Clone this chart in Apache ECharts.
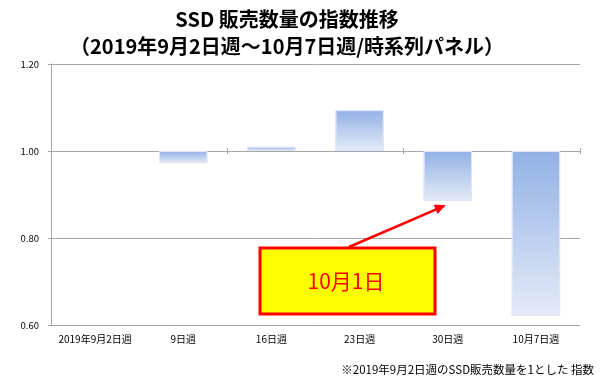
<!DOCTYPE html>
<html>
<head>
<meta charset="utf-8">
<script src="https://cdn.jsdelivr.net/npm/echarts@6/dist/echarts.min.js"></script>
<style>
html,body{margin:0;padding:0;background:#fff;}
#c{width:600px;height:380px;}
</style>
</head>
<body>
<div id="c"></div>
<script>
const categories = ['2019年9月2日週', '9日週', '16日週', '23日週', '30日週', '10月7日週'];
const values = [1.00, 0.972, 1.010, 1.094, 0.885, 0.621];
const yTicks = [0.60, 0.80, 1.00, 1.20];
const baseline = 1.00;
const titleLines = ['SSD 販売数量の指数推移', '（2019年9月2日週～10月7日週/時系列パネル）'];
const footnote = '※2019年9月2日週のSSD販売数量を1とした 指数';
const annotationText = '10月1日';
const annotationIndex = 4;

const baseVals = values.map(v => Math.min(v, baseline));
const deltaVals = values.map(v => (v === baseline ? null : Math.abs(v - baseline)));

const font = '"Noto Sans CJK JP", "Noto Sans", sans-serif';
const grad = new echarts.graphic.LinearGradient(0, 0, 0, 1, [
  {offset: 0, color: '#92b1e5'},
  {offset: 1, color: '#e4ebf8'}
]);

const chart = echarts.init(document.getElementById('c'), null, {renderer: 'canvas'});
const gridTop = 64, gridBottom = 55, gridLeft = 51, gridRight = 20;
const plotH = 380 - gridTop - gridBottom;
const yMin = yTicks[0], yMax = yTicks[yTicks.length - 1];
const offBase = -plotH * (yMax - baseline) / (yMax - yMin);

const option = {
  animation: false,
  backgroundColor: '#ffffff',
  title: [
    {text: titleLines[0], left: 282, top: 4, textAlign: 'center',
     textStyle: {fontFamily: font, fontSize: 20, fontWeight: 'bold', color: '#000'}},
    {text: titleLines[1], left: 282, top: 31, textAlign: 'center',
     textStyle: {fontFamily: font, fontSize: 20, fontWeight: 'bold', color: '#000'}}
  ],
  grid: {left: gridLeft, right: gridRight, top: gridTop, bottom: gridBottom, containLabel: false},
  xAxis: [
    {type: 'category', data: categories, position: 'bottom',
     axisLine: {show: false}, axisTick: {show: false},
     axisLabel: {fontFamily: font, fontSize: 10, color: '#000', margin: 9, interval: 0}},
    {type: 'category', data: categories, position: 'top', offset: offBase,
     axisLine: {show: true, lineStyle: {color: '#a6a6a6', width: 1}},
     axisTick: {show: true, length: 3, inside: false, lineStyle: {color: '#a6a6a6'}},
     axisLabel: {show: false}},
    {type: 'category', data: categories, position: 'top', offset: offBase,
     axisLine: {show: false},
     axisTick: {show: true, length: 3, inside: true, lineStyle: {color: '#a6a6a6'}},
     axisLabel: {show: false}}
  ],
  yAxis: {
    type: 'value', min: yMin, max: yMax, interval: 0.2,
    axisLine: {show: true, lineStyle: {color: '#a6a6a6'}},
    axisTick: {show: true, length: 3, lineStyle: {color: '#a6a6a6'}},
    splitLine: {show: true, lineStyle: {color: '#a6a6a6', width: 1}},
    axisLabel: {fontFamily: font, fontSize: 9.5, color: '#000', margin: 12,
      formatter: v => v.toFixed(2)}
  },
  series: [
    {type: 'bar', stack: 'a', data: baseVals, barWidth: '55%',
     itemStyle: {color: 'rgba(0,0,0,0)'}, z: 2, silent: true},
    {type: 'bar', stack: 'a', data: deltaVals, barWidth: '55%',
     itemStyle: {color: grad, borderColor: '#dfe7f6', borderWidth: 1}, z: 3}
  ]
};
chart.setOption(option);

const tip = chart.convertToPixel({xAxisIndex: 0, yAxisIndex: 0}, [annotationIndex, values[annotationIndex]]);
chart.setOption({
  graphic: [
    {type: 'rect', shape: {x: 260, y: 248, width: 175, height: 66},
     style: {fill: '#ffff00', stroke: '#ff0000', lineWidth: 3}, z: 10},
    {type: 'text', x: 346, y: 281,
     style: {text: annotationText, fontFamily: font, fontSize: 21, fill: '#ff0000',
       textAlign: 'center', textVerticalAlign: 'middle'}, z: 11},
    {type: 'line', shape: {x1: 349, y1: 247, x2: tip[0] - 4, y2: tip[1] + 5},
     style: {stroke: '#ff0000', lineWidth: 2.5}, z: 11},
    {type: 'polygon', shape: {points: (function(){
        const x1 = 349, y1 = 247, x2 = tip[0] - 2, y2 = tip[1] + 4;
        const a = Math.atan2(y2 - y1, x2 - x1), L = 11, W = 5;
        const bx = x2 - L * Math.cos(a), by = y2 - L * Math.sin(a);
        return [[x2, y2], [bx + W * Math.sin(a), by - W * Math.cos(a)], [bx - W * Math.sin(a), by + W * Math.cos(a)]];
      })()},
     style: {fill: '#ff0000'}, z: 11},
    {type: 'text', right: 6, top: 364,
     style: {text: footnote, fontFamily: font, fontSize: 11.5, fill: '#000'}, z: 11}
  ]
});
</script>
</body>
</html>
